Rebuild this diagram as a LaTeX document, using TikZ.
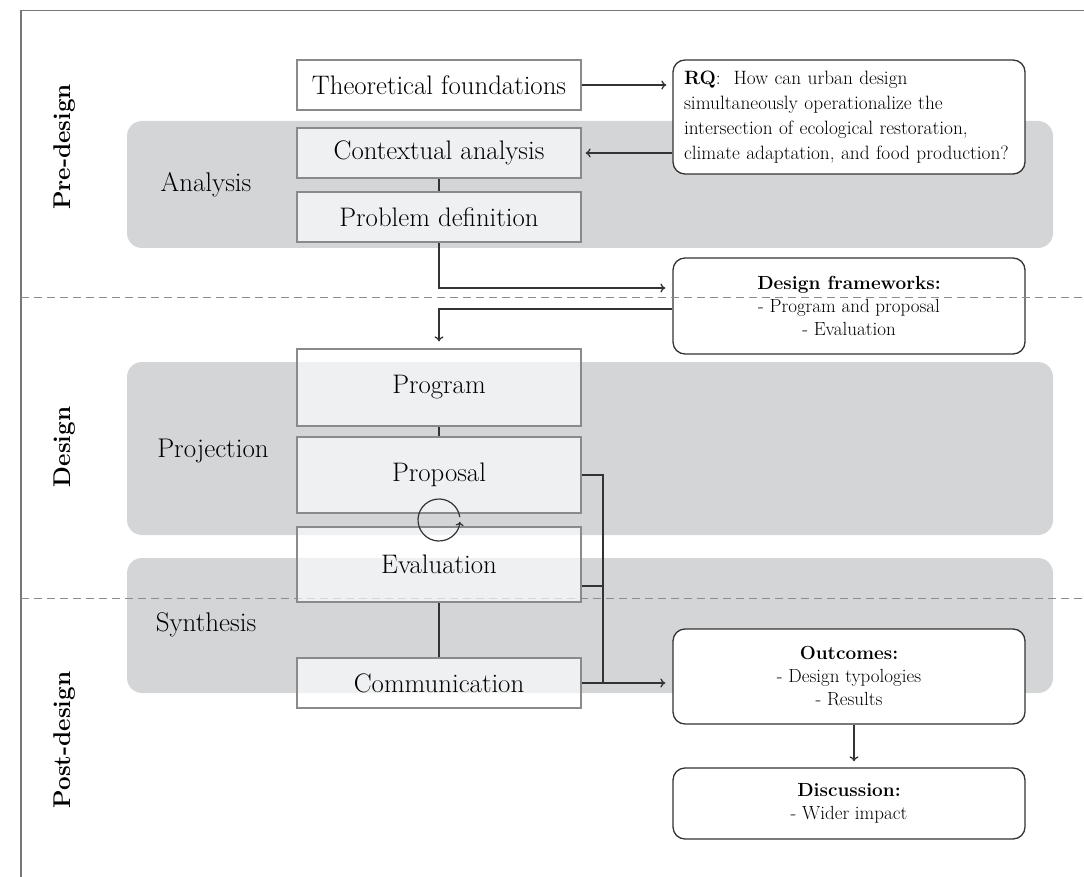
\documentclass[tikz,border=0pt]{standalone}
\usepackage{fontspec}
\usetikzlibrary{arrows.meta,calc}
\definecolor{bandgray}{HTML}{D4D5D7}
\definecolor{boxedge}{HTML}{8A8A8A}
\definecolor{darkline}{HTML}{333333}
\definecolor{dashgray}{HTML}{8C8C8C}
\definecolor{framegray}{HTML}{777777}
\tikzset{
  band/.style={fill=bandgray, draw=none, rounded corners=15pt},
  sqbox/.style={draw=boxedge, line width=1.2pt, fill=white, fill opacity=0.65, text opacity=1,
    minimum width=284pt, inner sep=0pt, font=\fontsize{26.8}{32}\selectfont},
  rbox/.style={draw=darkline, line width=1.3pt, fill=white, rounded corners=12pt,
    minimum width=352pt, inner sep=0pt, align=center, font=\fontsize{19}{23}\selectfont},
  conn/.style={draw=darkline, line width=1.3pt},
  arr/.style={conn, -{To[length=5pt,width=9pt]}},
  phase/.style={rotate=90, font=\bfseries\fontsize{24.2}{29}\selectfont},
  stage/.style={font=\fontsize{27}{32}\selectfont},
  sepline/.style={draw=dashgray, line width=1pt, dash pattern=on 8pt off 5pt},
  framel/.style={draw=framegray, line width=1.3pt},
}
\begin{document}
\begin{tikzpicture}[x=1pt,y=-1pt]
\useasboundingbox (0,0) rectangle (1084,877);
% frame
\draw[framel] (21,877) -- (21,10.5) -- (1084,10.5);
% bands
\fill[band] (127,121) rectangle (1053,248);
\fill[band] (127,362) rectangle (1053,535);
\fill[band] (127,558) rectangle (1053,693);
% lower separator (under boxes)
\draw[sepline] (21,598) -- (1084,598);
% phase labels
\node[phase] (pre) at (65,147) {Pre-design};
\node[phase] (des) at (65,447) {Design};
\node[phase] (post) at (65,740) {Post-design};
% stage labels
\node[stage] (ana) at (206,185) {Analysis};
\node[stage] (proj) at (213,451) {Projection};
\node[stage] (syn) at (206,625) {Synthesis};
% boxes
\node[sqbox, minimum height=50pt] (theo) at (439,85) {Theoretical foundations};
\node[sqbox, minimum height=50pt] (ctx) at (439,153) {Contextual analysis};
\node[sqbox, minimum height=50pt] (prob) at (439,217) {Problem definition};
\node[sqbox, minimum height=77pt] (prog) at (439,387.5) {Program};
\node[sqbox, minimum height=76pt] (prop) at (439,475) {Proposal};
\node[sqbox, minimum height=75pt] (eval) at (439,564.5) {Evaluation};
\node[sqbox, minimum height=50pt] (comm) at (439,683) {Communication};
% rounded boxes
\node[rbox, minimum height=114pt, text width=330pt, align=left, inner xsep=11pt,
      font=\fontsize{19.3}{25.2}\selectfont] (rq) at (849,117)
  {\textbf{RQ}:\ \ How can urban design\\simultaneously operationalize the\\intersection of ecological restoration,\\climate adaptation, and food production?};
\node[rbox, minimum height=96pt] (df) at (849,306)
  {\textbf{Design frameworks:}\\- Program and proposal\\- Evaluation};
\node[rbox, minimum height=95pt] (out) at (849,676.5)
  {\textbf{Outcomes:}\\- Design typologies\\- Results};
\node[rbox, minimum height=71pt] (disc) at (849,803.5)
  {\textbf{Discussion:}\\- Wider impact};
% connectors
\draw[arr, shorten >=6pt] (theo.east) -- (theo.east -| rq.west);
\draw[arr, shorten >=4pt] (ctx.east -| rq.west) -- (ctx.east);
\draw[conn] (ctx.south) -- (prob.north);
\draw[arr, shorten >=7pt] (prob.south) |- ([yshift=18pt]df.west);
\draw[arr, shorten >=7pt] ([yshift=-3pt]df.west) -| (prog.north);
\draw[conn] (prog.south) -- (prop.north);
\draw[conn] (eval.south) -- (comm.north);
\coordinate (j) at (603,683);
\draw[conn] (prop.east) -| (j);
\draw[conn] ([yshift=-21.5pt]eval.east) -- ([yshift=-21.5pt]eval.east -| j);
\draw[arr, shorten >=7pt] (comm.east) -- (comm.east -| out.west);
\draw[arr, shorten >=6pt] ([xshift=5pt]out.south) -- ([xshift=5pt]disc.north);
% loop
\coordinate (lc) at (439,520);
\draw[conn, line width=1.2pt, -{To[length=4pt,width=8pt]}] (lc) ++(-8:21) arc[start angle=-8, end angle=-355, radius=21];
% upper separator (over boxes)
\draw[sepline] (21,298) -- (1084,298);
\end{tikzpicture}
\end{document}
